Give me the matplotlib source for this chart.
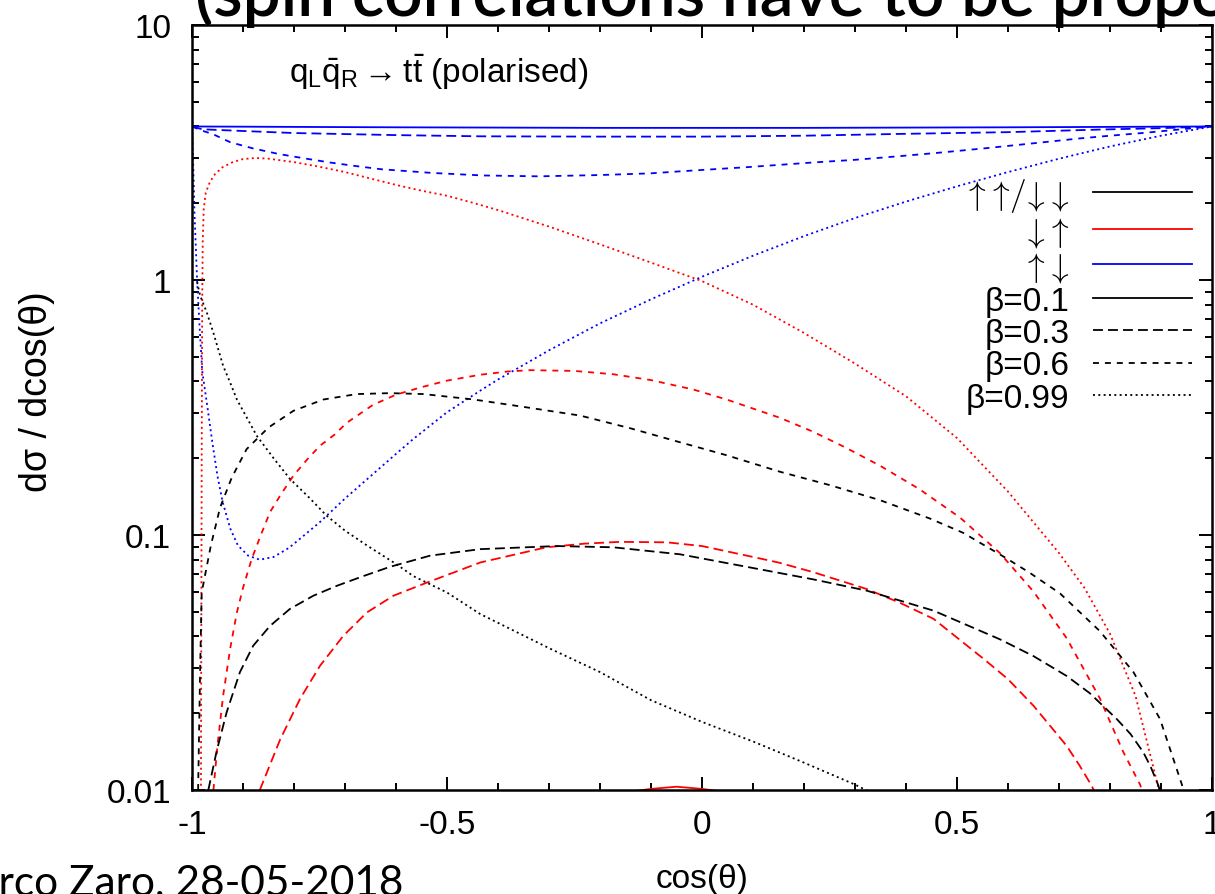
import matplotlib
matplotlib.use("Agg")
import matplotlib.pyplot as plt
from matplotlib.lines import Line2D

plt.rcParams['font.family'] = ['Liberation Sans', 'DejaVu Sans']
plt.rcParams['mathtext.fontset'] = 'custom'
plt.rcParams['mathtext.rm'] = 'Liberation Sans'
plt.rcParams['mathtext.it'] = 'Liberation Sans:italic'

# ---------------- data ----------------
# up-down (blue)
blue_b01_x = [-1.0, -0.6, -0.2, 0.2, 0.6, 1.0]
blue_b01_y = [4.0, 3.97, 3.95, 3.95, 3.97, 4.0]

blue_b03_x = [-1.0, -0.98, -0.9, -0.8, -0.6, -0.435, -0.2, 0.0, 0.2, 0.388, 0.6, 0.78, 0.9, 1.0]
blue_b03_y = [4.0, 3.9, 3.84, 3.77, 3.70, 3.66, 3.65, 3.65, 3.68, 3.74, 3.80, 3.89, 3.94, 4.0]

blue_b06_x = [-1.0, -0.98, -0.96, -0.925, -0.88, -0.83, -0.78, -0.73, -0.68, -0.63, -0.53, -0.43,
              -0.32, -0.2, -0.1, -0.04, 0.088, 0.218, 0.3, 0.388, 0.46, 0.545, 0.64, 0.74, 0.8,
              0.87, 0.94, 1.0]
blue_b06_y = [4.0, 3.85, 3.74, 3.47, 3.28, 3.12, 3.0, 2.89, 2.8, 2.72, 2.63, 2.57,
              2.55, 2.58, 2.62, 2.67, 2.77, 2.89, 2.96, 3.06, 3.15, 3.27, 3.42, 3.59, 3.68,
              3.78, 3.9, 4.0]

blue_b099_x = [-1.0, -0.998, -0.995, -0.99, -0.985, -0.98, -0.97, -0.96, -0.95, -0.94, -0.925,
               -0.91, -0.89, -0.867, -0.84, -0.81, -0.79, -0.75, -0.7, -0.65, -0.6, -0.566,
               -0.5, -0.435, -0.4, -0.3, -0.2, -0.1, 0.0, 0.1, 0.2, 0.3, 0.4, 0.5, 0.6, 0.7,
               0.8, 0.9, 1.0]
blue_b099_y = [4.0, 3.0, 1.8, 1.0, 0.65, 0.44, 0.32, 0.23, 0.17, 0.135, 0.106,
               0.091, 0.083, 0.080, 0.082, 0.089, 0.096, 0.112, 0.139, 0.17, 0.208, 0.238,
               0.303, 0.368, 0.407, 0.53, 0.676, 0.84, 1.03, 1.245, 1.486, 1.75, 2.03, 2.33,
               2.65, 2.99, 3.34, 3.68, 4.0]

# down-up (red)
red_b01_x = [-0.15, -0.1, -0.05, 0.0, 0.05]
red_b01_y = [0.0098, 0.0101, 0.0103, 0.0101, 0.0098]

red_b03_x = [-0.867, -0.827, -0.788, -0.749, -0.703, -0.657, -0.605, -0.54, -0.435, -0.305,
             -0.23, -0.161, -0.069, 0.0, 0.088, 0.15, 0.218, 0.323, 0.39, 0.454, 0.552, 0.6,
             0.65, 0.715, 0.74, 0.764, 0.77]
red_b03_y = [0.01, 0.0158, 0.0228, 0.0307, 0.0403, 0.0497, 0.0578, 0.065, 0.078, 0.0895,
             0.0925, 0.094, 0.0936, 0.0905, 0.083, 0.078, 0.0715, 0.0614, 0.054, 0.0469, 0.0327,
             0.0272, 0.0214, 0.0149, 0.0125, 0.0104, 0.0098]

red_b06_x = [-0.958, -0.95, -0.939, -0.925, -0.912, -0.9, -0.883, -0.865, -0.847, -0.825,
             -0.801, -0.775, -0.749, -0.72, -0.697, -0.645, -0.6, -0.55, -0.5, -0.435, -0.38,
             -0.337, -0.25, -0.174, -0.1, -0.017, 0.05, 0.153, 0.218, 0.28, 0.349, 0.427,
             0.506, 0.584, 0.65, 0.715, 0.78, 0.826, 0.859, 0.87]
red_b06_y = [0.01, 0.015, 0.0234, 0.036, 0.0497, 0.062, 0.0805, 0.100, 0.123, 0.145,
             0.171, 0.197, 0.224, 0.248, 0.275, 0.324, 0.355, 0.38, 0.403, 0.425, 0.438,
             0.443, 0.44, 0.427, 0.405, 0.372, 0.339, 0.288, 0.254, 0.221, 0.187, 0.151,
             0.117, 0.085, 0.060, 0.0394, 0.0229, 0.0141, 0.0105, 0.0089]

red_b099_x = [-0.9825, -0.981, -0.980, -0.979, -0.977, -0.973, -0.965, -0.955, -0.94, -0.92,
              -0.9, -0.875, -0.85, -0.8, -0.75, -0.7, -0.65, -0.6, -0.55, -0.5, -0.45, -0.4,
              -0.3, -0.2, -0.1, 0.0, 0.1, 0.2, 0.3, 0.4, 0.5, 0.6, 0.7, 0.75, 0.8, 0.85, 0.9]
red_b099_y = [0.009, 0.2, 0.8, 1.4, 1.9, 2.2, 2.42, 2.6, 2.77, 2.9,
              2.98, 3.01, 2.99, 2.9, 2.78, 2.65, 2.5, 2.36, 2.24, 2.14, 2.01, 1.88,
              1.62, 1.38, 1.17, 0.99, 0.80, 0.62, 0.47, 0.35, 0.24, 0.148, 0.085, 0.062,
              0.041, 0.0234, 0.0093]

# like-helicity (black)
black_b03_x = [-0.968, -0.952, -0.932, -0.906, -0.88, -0.847, -0.808, -0.762, -0.716, -0.664,
               -0.612, -0.533, -0.435, -0.285, -0.174, -0.043, 0.088, 0.218, 0.323, 0.454,
               0.584, 0.65, 0.715, 0.76, 0.813, 0.84, 0.865, 0.88, 0.895, 0.9]
black_b03_y = [0.01, 0.0141, 0.0202, 0.029, 0.0368, 0.044, 0.0513, 0.0578, 0.0632, 0.069,
               0.075, 0.083, 0.088, 0.0905, 0.0895, 0.084, 0.075, 0.067, 0.0605, 0.0505,
               0.039, 0.0335, 0.028, 0.024, 0.019, 0.0166, 0.0141, 0.0123, 0.0104, 0.0095]

black_b06_x = [-0.988, -0.984, -0.981, -0.963, -0.945, -0.922, -0.893, -0.85, -0.801, -0.742,
               -0.677, -0.612, -0.546, -0.448, -0.35, -0.239, -0.14, -0.043, 0.05, 0.153,
               0.25, 0.349, 0.447, 0.512, 0.597, 0.643, 0.702, 0.78, 0.846, 0.898, 0.941, 0.95]
black_b06_y = [0.01, 0.03, 0.0595, 0.091, 0.128, 0.168, 0.217, 0.264, 0.307, 0.34,
               0.357, 0.36, 0.357, 0.34, 0.318, 0.294, 0.262, 0.231, 0.205, 0.177,
               0.157, 0.137, 0.116, 0.102, 0.081, 0.071, 0.059, 0.042, 0.029, 0.019, 0.0105, 0.009]

black_b099_x = [-0.99, -0.984, -0.971, -0.958, -0.939, -0.925, -0.912, -0.873, -0.84, -0.808,
                -0.77, -0.736, -0.7, -0.657, -0.6, -0.566, -0.5, -0.435, -0.3, -0.2, -0.1,
                0.0, 0.1, 0.2, 0.3, 0.33]
black_b099_y = [0.98, 0.868, 0.746, 0.62, 0.461, 0.395, 0.34, 0.245, 0.2, 0.166,
                0.14, 0.119, 0.104, 0.091, 0.077, 0.069, 0.0595, 0.049, 0.036, 0.029, 0.0225,
                0.0185, 0.0155, 0.0128, 0.0105, 0.0098]

x_ticks = [-1, -0.5, 0, 0.5, 1]
x_tick_labels = ['-1', '-0.5', '0', '0.5', '1']
y_ticks = [0.01, 0.1, 1, 10]
y_tick_labels = ['0.01', '0.1', '1', '10']

spin_labels = [r'$\uparrow\!\uparrow\!/\!\downarrow\!\downarrow$', r'$\downarrow\!\uparrow$',
               r'$\uparrow\!\downarrow$']
beta_labels = ['\u03b2=0.1', '\u03b2=0.3', '\u03b2=0.6', '\u03b2=0.99']

# ---------------- styles ----------------
LW = 1.3
STY = {
    '0.1': '-',
    '0.3': (0, (5.5, 2.8)),
    '0.6': (0, (3.3, 3.3)),
    '0.99': (0, (1.1, 1.85)),
}
BLACK, RED, BLUE = '#000000', '#ff0000', '#0000ff'
FS = 24

W, H = 1215, 895
fig = plt.figure(figsize=(W / 100, H / 100), dpi=100)
L, R, T, B = 192, 1212, 26, 791
ax = fig.add_axes([L / W, 1 - B / H, (R - L) / W, (B - T) / H])

series = [
    (blue_b01_x, blue_b01_y, BLUE, '0.1'),
    (blue_b03_x, blue_b03_y, BLUE, '0.3'),
    (blue_b06_x, blue_b06_y, BLUE, '0.6'),
    (blue_b099_x, blue_b099_y, BLUE, '0.99'),
    (red_b01_x, red_b01_y, RED, '0.1'),
    (red_b03_x, red_b03_y, RED, '0.3'),
    (red_b06_x, red_b06_y, RED, '0.6'),
    (red_b099_x, red_b099_y, RED, '0.99'),
    (black_b03_x, black_b03_y, BLACK, '0.3'),
    (black_b06_x, black_b06_y, BLACK, '0.6'),
    (black_b099_x, black_b099_y, BLACK, '0.99'),
]
for xs, ys, c, b in series:
    ax.plot(xs, ys, color=c, lw=LW, linestyle=STY[b], solid_capstyle='butt',
            dash_capstyle='butt')

ax.set_yscale('log')
ax.set_xlim(-1, 1)
ax.set_ylim(0.01, 10)
ax.set_xticks(x_ticks)
ax.set_xticklabels(x_tick_labels)
ax.set_yticks(y_ticks)
ax.set_yticklabels(y_tick_labels)
ax.set_xticks([v / 10 for v in range(-10, 11)], minor=True)
ax.tick_params(which='both', direction='in', top=True, right=True, labelsize=FS, width=1.4)
ax.tick_params(which='major', length=9.5)
ax.tick_params(which='minor', length=5)
ax.tick_params(axis='x', which='major', pad=14)
ax.tick_params(axis='y', which='major', pad=15)
for s in ax.spines.values():
    s.set_linewidth(1.8)

ax.set_xlabel('cos(\u03b8)', fontsize=FS, labelpad=16)
ax.set_ylabel('d\u03c3 / dcos(\u03b8)', fontsize=27)
ax.yaxis.set_label_coords(-0.134, 0.5216)

ax.text(0.095, 0.94, r'$\mathrm{q_L\bar{q}_R \rightarrow t\bar{t}}$ (polarised)',
        transform=ax.transAxes, fontsize=FS, va='center', ha='left')

handles = [Line2D([], [], color=c, lw=LW) for c in (BLACK, RED, BLUE)]
handles += [Line2D([], [], color=BLACK, lw=LW, linestyle=STY[b]) for b in ('0.1', '0.3', '0.6', '0.99')]
leg = ax.legend(handles, spin_labels + beta_labels, loc='upper right',
                bbox_to_anchor=(0.980, 0.803), frameon=False, markerfirst=False,
                fontsize=FS, handlelength=2.95, handletextpad=0.72, labelspacing=0.04,
                borderpad=0, borderaxespad=0)
for t in leg.get_texts()[:3]:
    t.set_math_fontfamily('cm')

# slide overlays (cut off by the page edges)
fig.text(195 / W, 1 - 16 / H, '(spin correlations have to be properly taken into account)',
         fontsize=48.5, weight='semibold', family=['Lato', 'DejaVu Sans'], va='baseline', ha='left')
fig.text(-62 / W, 1 - 895 / H, 'Marco Zaro, 28-05-2018', fontsize=30.5,
         family=['Lato', 'DejaVu Sans'], va='baseline', ha='left')

fig.savefig('out.png', dpi=100)
